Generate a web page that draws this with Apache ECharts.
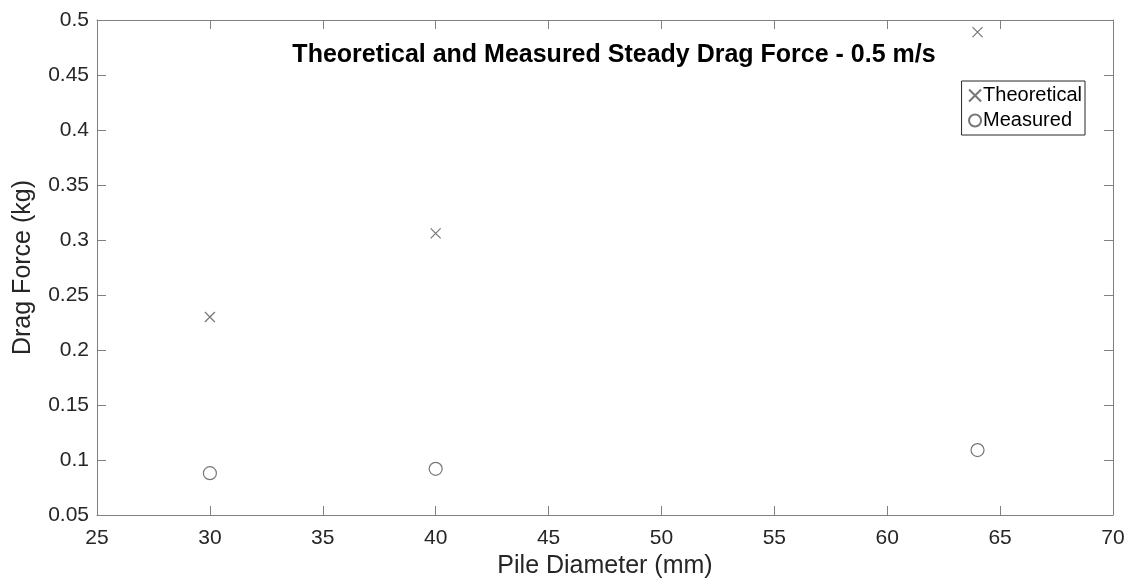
<!DOCTYPE html>
<html><head><meta charset="utf-8">
<script src="https://cdn.jsdelivr.net/npm/echarts@6/dist/echarts.min.js"></script>
<style>html,body{margin:0;padding:0;background:#fff}#c{width:1129px;height:583px}</style>
</head><body><div id="c"></div>
<script>
const diameters = [30, 40, 64];
const theoretical = [0.23, 0.306, 0.489];
const measured = [0.088, 0.092, 0.109];
const xTicks = [25, 70, 5];
const yTicks = [0.05, 0.5, 0.05];

const axisGray = '#808080';
const textC = '#262626';
const font = 'Liberation Sans, Arial, sans-serif';
const fmt = v => String(parseFloat(v.toFixed(2)));

const chart = echarts.init(document.getElementById('c'));
const baseX = {type:'value', min:xTicks[0], max:xTicks[1], interval:xTicks[2],
  axisLine:{show:true, onZero:false, lineStyle:{color:axisGray, width:1}},
  axisTick:{show:true, inside:true, length:9, lineStyle:{color:axisGray}},
  splitLine:{show:false}};
const baseY = {type:'value', min:yTicks[0], max:yTicks[1], interval:yTicks[2],
  axisLine:{show:true, onZero:false, lineStyle:{color:axisGray, width:1}},
  axisTick:{show:true, inside:true, length:9, lineStyle:{color:axisGray}},
  splitLine:{show:false}};

chart.setOption({
  backgroundColor:'#fff',
  animation:false,
  title:{text:'Theoretical and Measured Steady Drag Force - 0.5 m/s', left:609, top:38, textAlign:'center',
    textStyle:{fontFamily:font, fontSize:25, fontWeight:'bold', color:'#000'}},
  legend:{right:44, top:81, orient:'vertical', itemGap:0, itemWidth:12, itemHeight:12,
    borderColor:'#262626', borderWidth:1, borderRadius:0, padding:[2,3,2,5], backgroundColor:'#fff',
    textStyle:{fontFamily:font, fontSize:20, color:'#000', lineHeight:25, padding:[0,0,0,-3]},
    data:['Theoretical','Measured']},
  grid:{left:97, right:16, top:20, bottom:68, containLabel:false, outerBoundsMode:'none'},
  xAxis:[
    Object.assign({}, baseX, {position:'bottom', name:'Pile Diameter (mm)', nameLocation:'middle', nameGap:36,
      nameTextStyle:{fontFamily:font, fontSize:25, color:textC},
      axisLabel:{fontFamily:font, fontSize:21, color:textC, margin:13}}),
    Object.assign({}, baseX, {position:'top', axisLabel:{show:false}})
  ],
  yAxis:[
    Object.assign({}, baseY, {position:'left', name:'Drag Force (kg)', nameLocation:'middle', nameGap:61,
      nameTextStyle:{fontFamily:font, fontSize:25, color:textC},
      axisLabel:{fontFamily:font, fontSize:21, color:textC, margin:8, formatter:fmt}}),
    Object.assign({}, baseY, {position:'right', axisLabel:{show:false}})
  ],
  series:[
    {name:'Theoretical', type:'scatter', data:diameters.map((d,i)=>[d, theoretical[i]]),
      symbol:'path://M0,0L10,10M10,0L0,10', symbolSize:10,
      itemStyle:{color:'none', borderColor:'#555', borderWidth:1.2}},
    {name:'Measured', type:'scatter', data:diameters.map((d,i)=>[d, measured[i]]),
      symbol:'circle', symbolSize:13,
      itemStyle:{color:'#fff', borderColor:'#555', borderWidth:1.2}}
  ]
});
</script></body></html>
